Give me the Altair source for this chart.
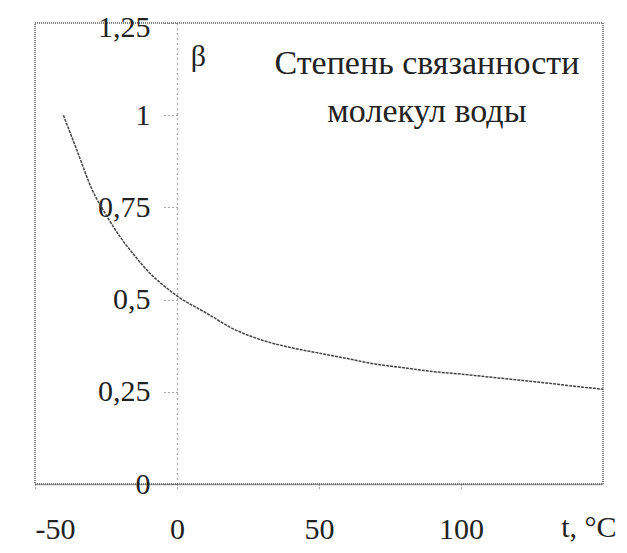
import altair as alt
import pandas as pd

# curve: degree of association of water molecules vs temperature
t_vals = [-40, -35, -30, -25, -20, -15, -10, -5, 0, 10, 20, 30, 40, 50,
          60, 70, 80, 90, 100, 110, 120, 130, 140, 150]
beta_vals = [1.0, 0.9, 0.8, 0.73, 0.67, 0.62, 0.575, 0.54, 0.51, 0.465, 0.42,
             0.39, 0.37, 0.355, 0.34, 0.325, 0.315, 0.305, 0.298, 0.29,
             0.282, 0.274, 0.265, 0.257]

x_ticks = [-50, 0, 50, 100]
y_ticks = [0, 0.25, 0.5, 0.75, 1, 1.25]

title_texts = ["Степень связанности", "молекул воды"]
title_t = [88, 88]
title_b = [1.138, 1.008]

mark_texts = ["β", "t, °C"]
mark_t = [7.5, 145]
mark_b = [1.158, -0.12]

FONT = "Liberation Serif"
INK = "#222222"
LINE = "#555555"

curve_df = pd.DataFrame({"t": t_vals, "beta": beta_vals})
title_df = pd.DataFrame({"text": title_texts, "t": title_t, "b": title_b})
mark_df = pd.DataFrame({"text": mark_texts, "t": mark_t, "b": mark_b})

xscale = alt.Scale(domain=[-50, 150], nice=False, zero=False)
yscale = alt.Scale(domain=[0, 1.25], nice=False)

curve = alt.Chart(curve_df).mark_line(
    color="#444444", strokeWidth=1.5, strokeDash=[3, 1], interpolate="monotone"
).encode(
    x=alt.X("t:Q", scale=xscale, axis=alt.Axis(
        values=x_ticks, title=None, grid=False,
        labelExpr="datum.value < 0 ? '-' + abs(datum.value) : '' + datum.value",
        labelFont=FONT, labelFontSize=30, labelColor=INK, labelPadding=24,
        tickSize=6, tickColor=LINE, tickDash=[1, 2],
        domainColor=LINE, domainDash=[1, 1], domainWidth=1.5,
    )),
    y=alt.Y("beta:Q", scale=yscale, axis=alt.Axis(
        values=y_ticks, title=None, grid=False,
        labelExpr="replace(toString(datum.value), '.', ',')",
        labelFont=FONT, labelFontSize=30, labelColor=INK, labelPadding=12,
        labelOffset={"condition": {"test": "datum.value == 1.25", "value": 4}, "value": 0},
        labelBound=False, labelFlush=False,
        tickSize=15, tickColor=LINE, tickDash=[1, 3],
        domainColor=LINE, domainDash=[1, 4], domainWidth=1.2,
        offset=-142,
    )),
)

titles = alt.Chart(title_df).mark_text(
    font=FONT, fontSize=34, color=INK, baseline="middle", align="center"
).encode(
    x=alt.X("t:Q", scale=xscale),
    y=alt.Y("b:Q", scale=yscale),
    text="text:N",
)

marks = alt.Chart(mark_df).mark_text(
    font=FONT, fontSize=30, color=INK, baseline="middle", align="center"
).encode(
    x=alt.X("t:Q", scale=xscale),
    y=alt.Y("b:Q", scale=yscale),
    text="text:N",
)

chart = (curve + titles + marks).properties(
    width=568, height=461,
    autosize=alt.AutoSizeParams(type="none"),
    padding={"left": 27, "top": 15, "right": 16, "bottom": 61},
    background="white",
).configure_view(
    stroke=LINE, strokeDash=[1, 1], strokeWidth=1.5
)

chart.save("out.html", embed_options={"renderer": "svg", "actions": False})
